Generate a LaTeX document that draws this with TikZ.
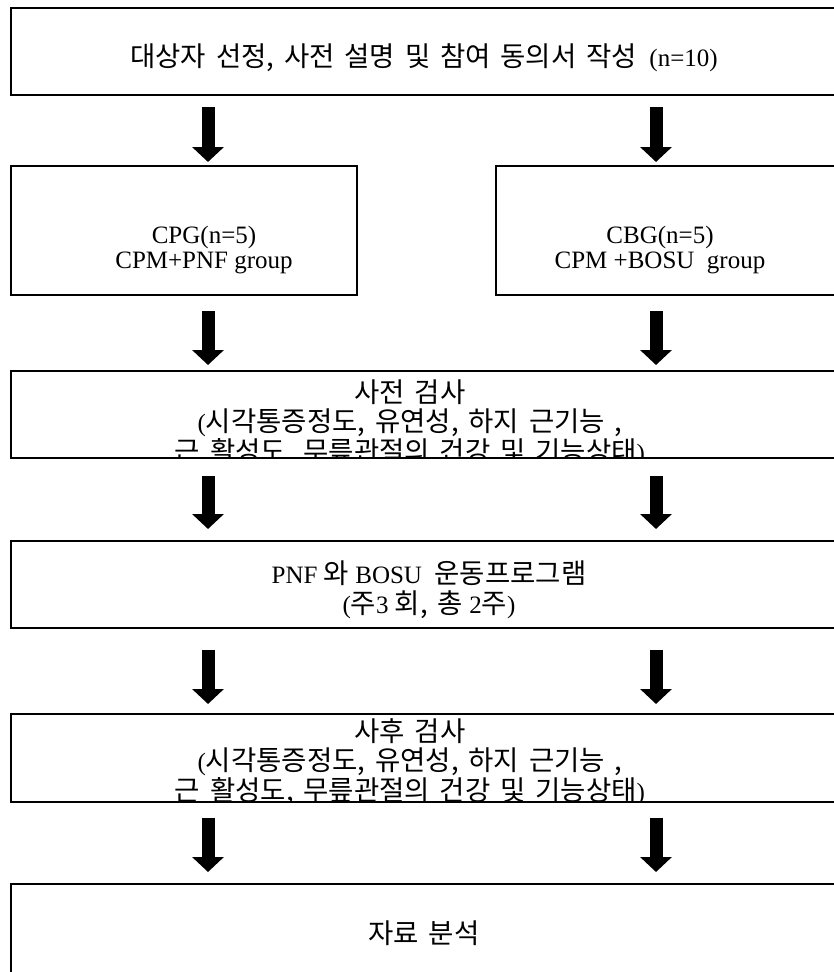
\documentclass[tikz,border=0pt]{standalone}
\usepackage{fontspec}
\setmainfont{Liberation Serif}
\newfontfamily\krfont[Scale=1.1,WordSpace=1.6]{Noto Sans CJK KR}
\newcommand{\ko}[1]{{\krfont #1}}
\usetikzlibrary{arrows.meta,positioning}

\begin{document}
\begin{tikzpicture}[x=1pt,y=-1pt,
    panel/.style={draw,line width=2pt,anchor=north west,inner sep=0pt,outer sep=0pt},
    boxtext/.style={align=center,inner sep=0pt,font=\fontsize{25}{29.5}\selectfont},
    flowarrow/.style={line width=13pt,-{Triangle[width=31pt,length=15pt]}}]
    \clip (0,0) rectangle (834,972);
    \fill[white] (0,0) rectangle (834,972);

    % Arrow columns
    \coordinate (colL) at (208,0);
    \coordinate (colR) at (656,0);

    % Boxes
    \node[panel,minimum width=850pt,minimum height=87pt] (top) at (11,8) {};
    \node[panel,minimum width=346pt,minimum height=129pt] (cpg) at (11,166) {};
    \node[panel,minimum width=365pt,minimum height=129pt] (cbg) at (496,166) {};
    \node[panel,minimum width=850pt,minimum height=87pt] (pre) at (11,371) {};
    \node[panel,minimum width=850pt,minimum height=87pt] (prog) at (11,541) {};
    \node[panel,minimum width=850pt,minimum height=88pt] (post) at (11,714) {};
    \node[panel,minimum width=850pt,minimum height=120pt] (anal) at (11,884) {};

    % Box texts
    \node[boxtext] (toptext) at (424,58)
      {\ko{대상자 선정, 사전 설명 및 참여 동의서 작성}~~(n=10)};
    \node[boxtext,font=\fontsize{25}{25.5}\selectfont] (cpgtext) at (204,250)
      {CPG(n=5)\\CPM+PNF group};
    \node[boxtext,font=\fontsize{25}{25.5}\selectfont] (cbgtext) at (660,250)
      {CBG(n=5)\\CPM +BOSU~~group};
    \begin{scope}
      \clip (pre.north west) rectangle (pre.south east);
      \node[boxtext] (pretext) at (410,423)
        {\ko{사전 검사}\\(\ko{시각통증정도, 유연성, 하지 근기능 ,}\\\ko{근 활성도, 무릎관절의 건강 및 기능상태})};
    \end{scope}
    \node[boxtext] (progtext) at (429,590)
      {PNF \ko{와} BOSU~~\ko{운동프로그램}\\(\ko{주}3 \ko{회, 총} 2\ko{주})};
    \begin{scope}
      \clip (post.north west) rectangle (post.south east);
      \node[boxtext] (posttext) at (410,762)
        {\ko{사후 검사}\\(\ko{시각통증정도, 유연성, 하지 근기능 ,}\\\ko{근 활성도, 무릎관절의 건강 및 기능상태})};
    \end{scope}
    \node[boxtext] (analtext) at (424,933) {\ko{자료 분석}};

    % Arrows
    \draw[flowarrow,shorten <=12pt,shorten >=4pt] (top.south -| colL) -- (cpg.north -| colL);
    \draw[flowarrow,shorten <=12pt,shorten >=4pt] (top.south -| colR) -- (cbg.north -| colR);
    \draw[flowarrow,shorten <=16pt,shorten >=6pt] (cpg.south -| colL) -- (pre.north -| colL);
    \draw[flowarrow,shorten <=16pt,shorten >=6pt] (cbg.south -| colR) -- (pre.north -| colR);
    \draw[flowarrow,shorten <=18pt,shorten >=12pt] (pre.south -| colL) -- (prog.north -| colL);
    \draw[flowarrow,shorten <=18pt,shorten >=12pt] (pre.south -| colR) -- (prog.north -| colR);
    \draw[flowarrow,shorten <=22pt,shorten >=10pt] (prog.south -| colL) -- (post.north -| colL);
    \draw[flowarrow,shorten <=22pt,shorten >=10pt] (prog.south -| colR) -- (post.north -| colR);
    \draw[flowarrow,shorten <=16pt,shorten >=12pt] (post.south -| colL) -- (anal.north -| colL);
    \draw[flowarrow,shorten <=16pt,shorten >=12pt] (post.south -| colR) -- (anal.north -| colR);
\end{tikzpicture}
\end{document}
